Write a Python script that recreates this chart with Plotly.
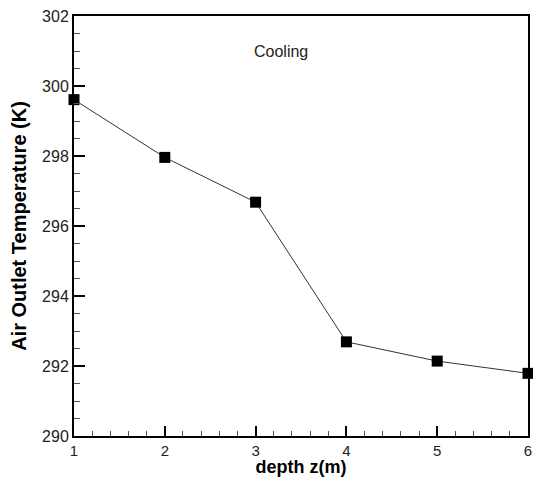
import plotly.graph_objects as go

depth = [1, 2, 3, 4, 5, 6]
temperature = [299.61, 297.96, 296.68, 292.69, 292.14, 291.79]
x_ticks = [1, 2, 3, 4, 5, 6]
y_ticks = [290, 292, 294, 296, 298, 300, 302]

FONT = "Liberation Sans, Arial, sans-serif"

fig = go.Figure()
fig.add_trace(go.Scatter(
    x=depth, y=temperature, mode="lines+markers",
    line=dict(color="#333333", width=1),
    marker=dict(symbol="square", size=11, color="black"),
    cliponaxis=False, showlegend=False,
))

axis_common = dict(
    showgrid=False, zeroline=False, showline=True, linecolor="black", linewidth=2,
    mirror=True, ticks="inside", tickcolor="black", tickwidth=2,
    ticklabeloverflow="allow",
)

fig.update_xaxes(
    range=[1, 6], tickmode="array", tickvals=x_ticks, ticktext=[str(v) for v in x_ticks],
    ticklen=10,
    tickfont=dict(family=FONT, size=15, color="#222"),
    minor=dict(dtick=0.2, ticks="inside", ticklen=5, tickcolor="#555", tickwidth=1),
    title=dict(text="<b>depth z(m)</b>", standoff=1,
               font=dict(family=FONT, size=18, color="black")),
    **axis_common,
)
fig.update_yaxes(
    range=[290, 302], tickmode="array", tickvals=y_ticks, ticktext=[str(v) for v in y_ticks],
    ticklen=11,
    tickfont=dict(family=FONT, size=16, color="#222"),
    minor=dict(dtick=0.5, ticks="inside", ticklen=6, tickcolor="#555", tickwidth=1),
    title=dict(text="<b>Air Outlet Temperature (K)</b>", standoff=10,
               font=dict(family=FONT, size=20, color="black")),
    **axis_common,
)

fig.add_annotation(
    x=0.455, y=0.94, xref="paper", yref="paper", text="Cooling", showarrow=False,
    font=dict(family=FONT, size=16, color="#222"),
)

fig.update_layout(
    width=533, height=477,
    margin=dict(l=74, r=1, t=16, b=41),
    plot_bgcolor="white", paper_bgcolor="white",
)

fig.write_html("out.html")
